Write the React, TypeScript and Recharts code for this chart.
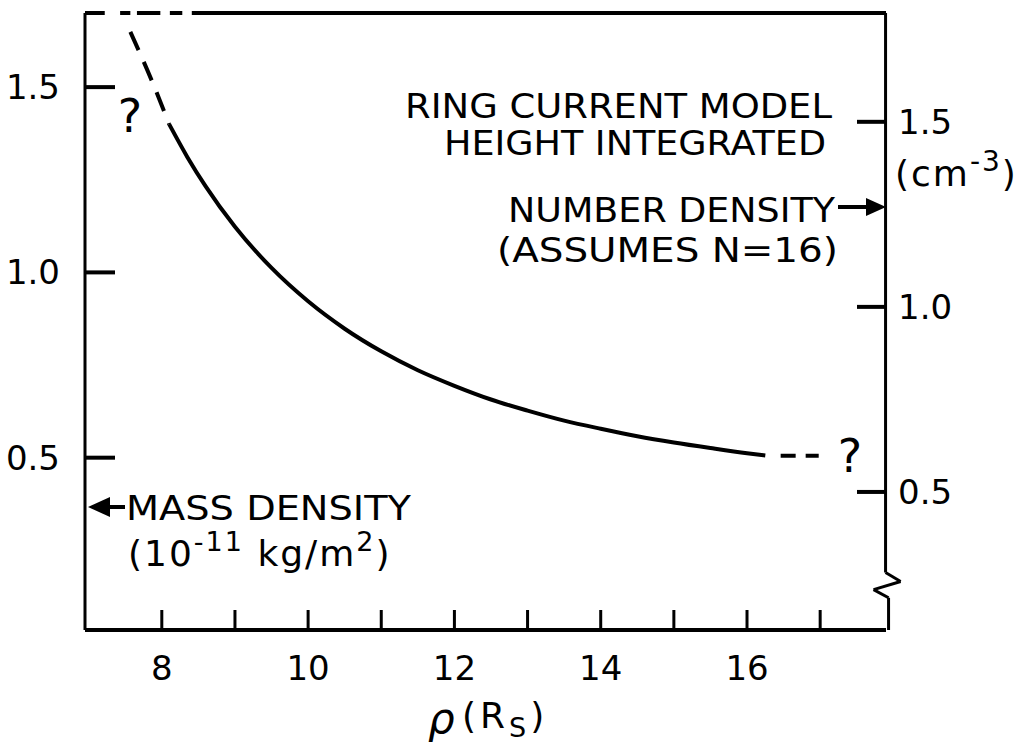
import { LineChart, Line, XAxis, YAxis, ReferenceLine } from "recharts"

// radial distance (R_S) ticks, bottom axis
const rhoTicks = [8, 9, 10, 11, 12, 13, 14, 15, 16, 17]
const rhoLabels = [8, 10, 12, 14, 16]
// mass density axis (10^-11 kg/m^2), left
const massTicks = [0.5, 1.0, 1.5]
// number density axis (cm^-3), right
const numberTicks = [0.5, 1.0, 1.5]

// uncertain upper end of the curve (dashed)
const headRho = [7.57, 7.87, 8.1]
const headMass = [1.649, 1.514, 1.4]

// main curve
const curveRho = [8.1, 8.35, 8.6, 9, 9.5, 10, 10.5, 11, 11.5, 12, 12.5, 13, 13.5, 14, 14.5, 15, 15.5, 16, 16.25]
const curveMass = [1.4, 1.311, 1.232, 1.123, 1.012, 0.922, 0.848, 0.787, 0.736, 0.694, 0.657, 0.627, 0.6, 0.578, 0.558, 0.541, 0.526, 0.512, 0.506]

// uncertain outer end (dashed)
const tailRho = [16.46, 16.98]
const tailMass = [0.505, 0.505]

const toPoints = (xs: number[], ys: number[]) => xs.map((rho, i) => ({ rho, mass: ys[i] }))

const headData = toPoints(headRho, headMass)
const curveData = toPoints(curveRho, curveMass)
const tailData = toPoints(tailRho, tailMass)

const FONT = "'DejaVu Sans', sans-serif"
const INK = "#000"

const LeftTick = (props: any) => {
  const { x, y, payload } = props
  return (
    <g>
      <line x1={x} x2={x + 30} y1={y} y2={y} stroke={INK} strokeWidth={4} />
      <text x={x - 25} y={y + 12} textAnchor="end" fontSize={34} fontFamily={FONT} fill={INK}>
        {payload.value.toFixed(1)}
      </text>
    </g>
  )
}

const RightTick = (props: any) => {
  const { x, y, payload } = props
  return (
    <g>
      <line x1={x - 29} x2={x} y1={y} y2={y} stroke={INK} strokeWidth={4} />
      <text x={x + 12} y={y + 12} textAnchor="start" fontSize={34} fontFamily={FONT} fill={INK}>
        {payload.value.toFixed(1)}
      </text>
    </g>
  )
}

const BottomTick = (props: any) => {
  const { x, y, payload } = props
  return (
    <g>
      <line x1={x} x2={x} y1={y} y2={y - 20} stroke={INK} strokeWidth={3} />
      {rhoLabels.includes(payload.value) && (
        <text x={x} y={y + 50} textAnchor="middle" fontSize={34} fontFamily={FONT} fill={INK}>
          {payload.value}
        </text>
      )}
    </g>
  )
}

const TopTick = (props: any) => {
  const { x, y } = props
  return <line x1={x} x2={x} y1={y} y2={y + 13} stroke={INK} strokeWidth={3} />
}

// pieces of the frame that are not axis lines (top edge, broken right edge)
const topEdge = [
  [6.95, 7.22],
  [7.43, 7.57],
  [7.66, 7.98],
  [8.11, 8.28],
  [8.41, 17.9],
]
const rightEdge = [
  [17.894, 1.7, 17.894, 0.19],
  [17.894, 0.19, 18.1, 0.166],
  [18.1, 0.166, 17.73, 0.144],
  [17.73, 0.144, 17.935, 0.122],
  [17.935, 0.122, 17.935, 0.035],
]

export default function App() {
  return (
    <div style={{ position: "absolute", left: 0, top: 0, width: 1027, height: 745, background: "#fff" }}>
      <LineChart width={1027} height={745} margin={{ top: 13, right: 0, bottom: 0, left: 0 }}>
        <XAxis
          xAxisId="bottom"
          dataKey="rho"
          type="number"
          domain={[6.95, 17.9]}
          allowDataOverflow
          ticks={rhoTicks}
          interval={0}
          height={115}
          tickSize={0}
          tickMargin={0}
          tickLine={false}
          tick={<BottomTick />}
          axisLine={{ stroke: INK, strokeWidth: 4 }}
        />
        <XAxis
          xAxisId="top"
          orientation="top"
          dataKey="rho"
          type="number"
          domain={[6.95, 17.9]}
          allowDataOverflow
          ticks={rhoTicks}
          interval={0}
          height={0}
          tickSize={0}
          tickMargin={0}
          tickLine={false}
          tick={<TopTick />}
          axisLine={false}
        />
        <YAxis
          yAxisId="mass"
          type="number"
          domain={[0.035, 1.7]}
          allowDataOverflow
          ticks={massTicks}
          interval={0}
          width={85}
          tickSize={0}
          tickMargin={0}
          tickLine={false}
          tick={<LeftTick />}
          axisLine={{ stroke: INK, strokeWidth: 3 }}
        />
        <YAxis
          yAxisId="number"
          orientation="right"
          type="number"
          domain={[0.127, 1.794]}
          allowDataOverflow
          ticks={numberTicks}
          interval={0}
          width={141}
          tickSize={0}
          tickMargin={0}
          tickLine={false}
          tick={<RightTick />}
          axisLine={false}
        />
        {topEdge.map(([a, b], i) => (
          <ReferenceLine
            key={"t" + i}
            xAxisId="bottom"
            yAxisId="mass"
            segment={[{ x: a, y: 1.7 }, { x: b, y: 1.7 }]}
            stroke={INK}
            strokeWidth={4}
            ifOverflow="visible"
          />
        ))}
        {rightEdge.map(([x1, y1, x2, y2], i) => (
          <ReferenceLine
            key={"r" + i}
            xAxisId="bottom"
            yAxisId="mass"
            segment={[{ x: x1, y: y1 }, { x: x2, y: y2 }]}
            stroke={INK}
            strokeWidth={3}
            ifOverflow="visible"
          />
        ))}
        <Line
          xAxisId="bottom"
          yAxisId="mass"
          data={headData}
          dataKey="mass"
          type="monotone"
          stroke={INK}
          strokeWidth={4}
          strokeDasharray="20 13"
          dot={false}
          isAnimationActive={false}
        />
        <Line
          xAxisId="bottom"
          yAxisId="mass"
          data={curveData}
          dataKey="mass"
          type="monotone"
          stroke={INK}
          strokeWidth={4}
          dot={false}
          isAnimationActive={false}
        />
        <Line
          xAxisId="bottom"
          yAxisId="mass"
          data={tailData}
          dataKey="mass"
          type="linear"
          stroke={INK}
          strokeWidth={4}
          strokeDasharray="15 10"
          dot={false}
          isAnimationActive={false}
        />
      </LineChart>
      <svg
        width={1027}
        height={745}
        style={{ position: "absolute", left: 0, top: 0, pointerEvents: "none" }}
        fontFamily={FONT}
        fill={INK}
      >
        <text x={405} y={118} fontSize={34} textLength={427} lengthAdjust="spacingAndGlyphs">RING CURRENT MODEL</text>
        <text x={444} y={155} fontSize={34} textLength={382} lengthAdjust="spacingAndGlyphs">HEIGHT INTEGRATED</text>
        <text x={508} y={222} fontSize={34} textLength={327} lengthAdjust="spacingAndGlyphs">NUMBER DENSITY</text>
        <line x1={838} x2={868} y1={207} y2={207} stroke={INK} strokeWidth={4} />
        <polygon points="866,198 886,207 866,216" fill={INK} />
        <text x={497} y={262} fontSize={34} textLength={341} lengthAdjust="spacingAndGlyphs">(ASSUMES N=16)</text>
        <polygon points="88,507 110,497 110,517" fill={INK} />
        <line x1={108} x2={125} y1={507} y2={507} stroke={INK} strokeWidth={4} />
        <text x={126} y={520} fontSize={34} textLength={285} lengthAdjust="spacingAndGlyphs">MASS DENSITY</text>
        <text x={128} y={566} fontSize={36} letterSpacing={2}>
          (10
          <tspan dy={-15} fontSize={27}>-11</tspan>
          <tspan dy={15}> kg/m</tspan>
          <tspan dy={-15} fontSize={27}>2</tspan>
          <tspan dy={15}>)</tspan>
        </text>
        <text x={895} y={186} fontSize={36} letterSpacing={2}>
          (cm
          <tspan dy={-15} fontSize={28}>-3</tspan>
          <tspan dy={15}>)</tspan>
        </text>
        <text x={130} y={132} fontSize={46} textAnchor="middle">?</text>
        <text x={850} y={472} fontSize={46} textAnchor="middle">?</text>
        <text x={428} y={733} fontSize={42} fontStyle="italic">ρ</text>
        <text x={462} y={728} fontSize={36} letterSpacing={4}>
          (R
          <tspan dy={9} fontSize={27}>S</tspan>
          <tspan dy={-9}>)</tspan>
        </text>
      </svg>
    </div>
  )
}
